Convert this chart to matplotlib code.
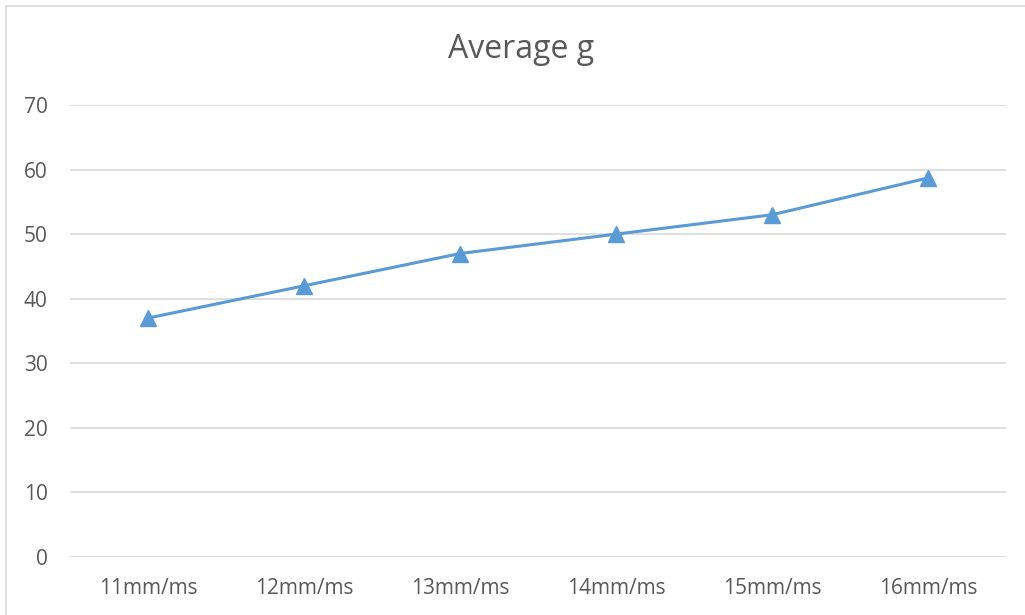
import matplotlib.pyplot as plt
from matplotlib.patches import Rectangle

categories = ['11mm/ms', '12mm/ms', '13mm/ms', '14mm/ms', '15mm/ms', '16mm/ms']
avg_g = [37, 42, 47, 50, 53, 58.7]
y_ticks = [0, 10, 20, 30, 40, 50, 60, 70]

plt.rcParams['font.family'] = ['Open Sans', 'DejaVu Sans']

fig = plt.figure(figsize=(10.25, 6.15), dpi=100)
ax = fig.add_axes([70 / 1025, 58 / 615, 936 / 1025, 452 / 615])

x = range(len(categories))
ax.plot(x, avg_g, color='#5B9BD5', linewidth=2.2, marker='^', markersize=11,
        markerfacecolor='#5B9BD5', markeredgecolor='#5B9BD5', zorder=3)

ax.set_xlim(-0.5, len(categories) - 0.5)
ax.set_ylim(0, 70)
ax.set_yticks(y_ticks)
ax.set_xticks(list(x))
ax.set_xticklabels(categories)
ax.grid(axis='y', color='#D9D9D9', linewidth=1.2)
ax.set_axisbelow(True)
for s in ax.spines.values():
    s.set_visible(False)
ax.tick_params(length=0, labelsize=15, labelcolor='#595959')
ax.tick_params(axis='x', pad=15)
ax.tick_params(axis='y', pad=16)

fig.text(521 / 1025, 1 - 58 / 615, 'Average g', ha='center', va='baseline',
         fontsize=23, color='#595959')

# chart border
fig.patches.append(Rectangle((5.5 / 1025, -0.1), 1.2, 1.1 - 6.5 / 615,
                             transform=fig.transFigure, fill=False,
                             edgecolor='#D9D9D9', linewidth=1.2))

fig.savefig('out.png', dpi=100)
